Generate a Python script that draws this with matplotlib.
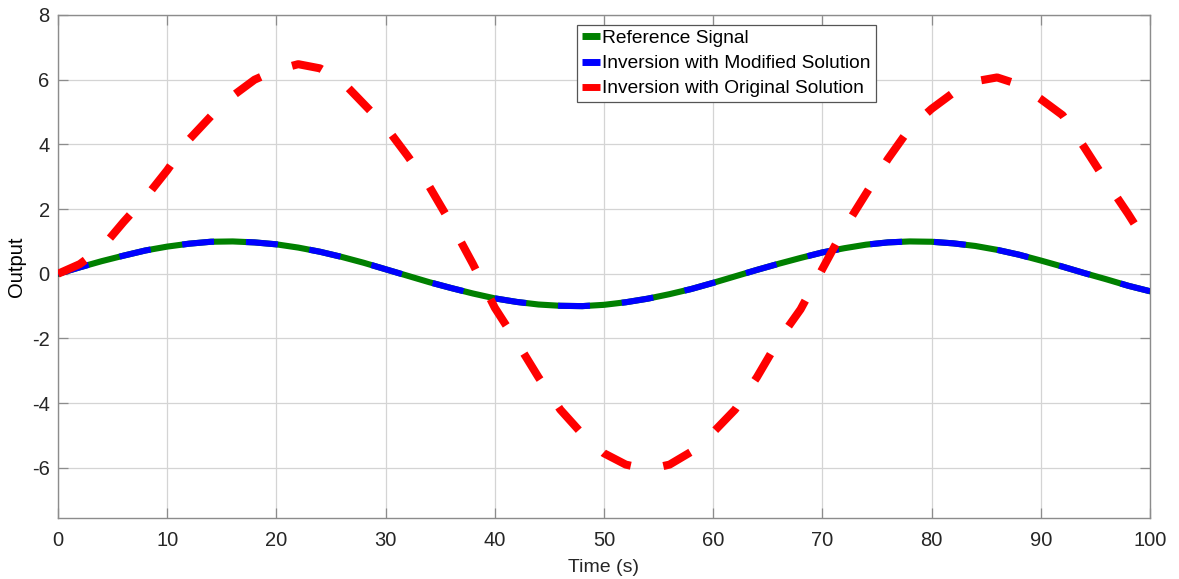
import matplotlib
matplotlib.use('Agg')
import matplotlib.pyplot as plt

plt.rcParams['font.family'] = ['Liberation Sans', 'DejaVu Sans']
plt.rcParams['lines.scale_dashes'] = False
plt.rcParams['axes.unicode_minus'] = False

# time samples (s)
time = [0, 2, 4, 6, 8, 10, 12, 14, 16, 18, 20, 22, 24, 26, 28, 30, 32, 34, 36, 38,
        40, 42, 44, 46, 48, 50, 52, 54, 56, 58, 60, 62, 64, 66, 68, 70, 72, 74, 76, 78,
        80, 82, 84, 86, 88, 90, 92, 94, 96, 98, 100]

reference = [0.00, 0.20, 0.39, 0.56, 0.72, 0.84, 0.93, 0.99, 1.00, 0.97, 0.91, 0.81, 0.68,
             0.52, 0.34, 0.14, -0.06, -0.26, -0.44, -0.61, -0.76, -0.87, -0.95, -0.99,
             -1.00, -0.96, -0.88, -0.77, -0.63, -0.47, -0.28, -0.08, 0.12, 0.31, 0.49,
             0.66, 0.79, 0.90, 0.97, 1.00, 0.99, 0.94, 0.86, 0.74, 0.59, 0.41, 0.22, 0.02,
             -0.17, -0.37, -0.54]

modified = [0.00, 0.20, 0.39, 0.56, 0.72, 0.84, 0.93, 0.99, 1.00, 0.97, 0.91, 0.81, 0.68,
            0.52, 0.34, 0.14, -0.06, -0.26, -0.44, -0.61, -0.76, -0.87, -0.95, -0.99,
            -1.00, -0.96, -0.88, -0.77, -0.63, -0.47, -0.28, -0.08, 0.12, 0.31, 0.49,
            0.66, 0.79, 0.90, 0.97, 1.00, 0.99, 0.94, 0.86, 0.74, 0.59, 0.41, 0.22, 0.02,
            -0.17, -0.37, -0.54]

original = [0.00, 0.30, 0.80, 1.60, 2.35, 3.20, 4.15, 4.87, 5.50, 6.00, 6.30, 6.48, 6.35,
            5.95, 5.25, 4.55, 3.65, 2.70, 1.55, 0.30, -1.05, -2.10, -3.20, -4.20, -4.95,
            -5.55, -5.90, -6.05, -5.90, -5.50, -4.90, -4.20, -3.20, -2.05, -1.10, 0.15,
            1.40, 2.48, 3.55, 4.50, 5.10, 5.60, 5.95, 6.07, 5.85, 5.40, 4.90, 3.90, 2.85,
            1.85, 0.78]

labels = ['Reference Signal', 'Inversion with Modified Solution',
          'Inversion with Original Solution']

fig = plt.figure(figsize=(11.79, 5.79), dpi=100)
ax = fig.add_axes([58 / 1179, 1 - 518 / 579, (1150 - 58) / 1179, (518 - 15) / 579])

ax.plot(time, reference, color='#008000', lw=4.4, label=labels[0], zorder=3)
ax.plot(time, modified, color='#0000ff', lw=4.4, dashes=(23, 23), label=labels[1], zorder=4)
ax.plot(time, original, color='#ff0000', lw=5.8, dashes=(22, 24), label=labels[2], zorder=5)

ax.set_xlim(0, 100)
ax.set_ylim(-7.55, 8)
ax.set_xticks(range(0, 101, 10))
ax.set_yticks(range(-6, 9, 2))
ax.grid(True, color='#d4d4d4', lw=0.9)
ax.set_axisbelow(True)
for s in ax.spines.values():
    s.set_color('#8c8c8c')
    s.set_linewidth(1.0)
ax.tick_params(direction='in', length=7, width=0.9, color='#8c8c8c', labelsize=14.5,
               labelcolor='#262626', top=True, right=True)
ax.tick_params(axis='x', pad=9)
ax.tick_params(axis='y', pad=6)

ax.set_xlabel('Time (s)', fontsize=14, color='#262626', labelpad=7)
ax.set_ylabel('Output', fontsize=14.5, color='#000000')
ax.yaxis.set_label_coords(-0.029, 0.5)

leg = ax.legend(loc='upper left', bbox_to_anchor=(577 / 1179, 1 - 25 / 579),
                bbox_transform=fig.transFigure, borderaxespad=0, fontsize=13.8,
                handlelength=0.95, handletextpad=0.12, borderpad=0.25, labelspacing=0.4,
                fancybox=False, framealpha=1, edgecolor='#555555')
leg.get_frame().set_linewidth(0.9)
for h in leg.get_lines():
    h.set_linewidth(5)
    h.set_linestyle('-')
    h.set_solid_capstyle('butt')

fig.savefig('out.png', dpi=100)
